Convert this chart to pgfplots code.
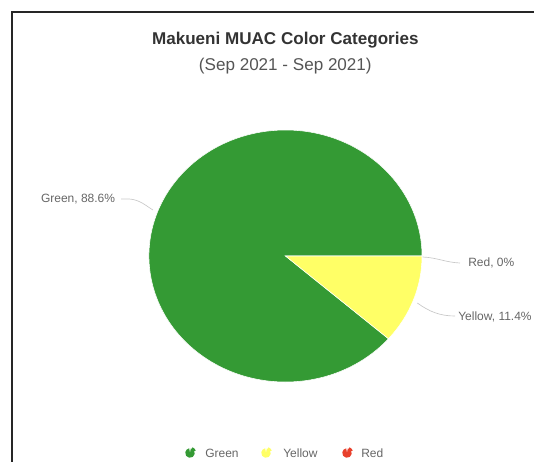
\documentclass[border=0pt]{standalone}
\usepackage{pgfplots}
\usepackage{pgfplotstable}
\pgfplotsset{compat=1.18}
\usepackage{fontspec}
\setmainfont{Liberation Sans}
\definecolor{cGreen}{HTML}{349A34}
\definecolor{cYellow}{HTML}{FFFF66}
\definecolor{cRed}{HTML}{E8402C}
\definecolor{cTitle}{HTML}{333333}
\definecolor{cSub}{HTML}{555555}
\definecolor{cLab}{HTML}{666666}
\definecolor{cConn}{HTML}{C8C8C8}

\pgfplotstableread{
name value
Green 88.6
Yellow 11.4
Red 0
}\piedata
\pgfplotstablegetelem{0}{value}\of\piedata \let\vG\pgfplotsretval
\pgfplotstablegetelem{1}{value}\of\piedata \let\vY\pgfplotsretval
\pgfplotstablegetelem{2}{value}\of\piedata \let\vR\pgfplotsretval
\pgfmathsetmacro\aS{-\vY*3.6}
\pgfmathsetmacro\aG{\aS-\vG*3.6}
\pgfmathsetmacro\aY{\aG-\vY*3.6}
\pgfmathsetmacro\aR{\aY-\vR*3.6}
\def\rx{102.4pt}
\def\ry{94.5pt}

\begin{document}
\begin{tikzpicture}[x=1pt,y=1pt]
\useasboundingbox (0,0) rectangle (400.5,345.75);
\clip (0,0) rectangle (400.5,345.75);
% frame
\draw[black!85, line width=1.6pt] (9.2,-10) -- (9.2,337) -- (420,337);
% titles
\node[font=\fontsize{12.8}{14}\selectfont\bfseries, text=cTitle] at (214,315.5) {Makueni MUAC Color Categories};
\node[font=\fontsize{12.8}{14}\selectfont, text=cSub] at (214,296.5) {(Sep 2021 - Sep 2021)};
\begin{axis}[
  at={(214.1pt,153.75pt)}, anchor=center,
  scale only axis, width=204.8pt, height=189pt,
  xmin=-1, xmax=1, ymin=-1, ymax=1,
  hide axis, clip=false]
\fill[cGreen, draw=white, line width=0.4pt] (axis cs:0,0) -- (axis cs:{cos(\aS)},{sin(\aS)}) arc[start angle=\aS, end angle=\aG, x radius=\rx, y radius=\ry] -- cycle;
\fill[cYellow, draw=white, line width=0.4pt] (axis cs:0,0) -- (axis cs:{cos(\aG)},{sin(\aG)}) arc[start angle=\aG, end angle=\aY, x radius=\rx, y radius=\ry] -- cycle;
\end{axis}
% connectors
\draw[cConn, line width=0.5pt] (90.75,196.5) -- (97,196.5) .. controls (105,196) and (110,191) .. (114.75,188.25);
\draw[cConn, line width=0.5pt] (317,153) .. controls (328,152.5) and (334,149) .. (345,148.5);
\draw[cConn, line width=0.5pt] (313,118.5) .. controls (322,112) and (330,108.75) .. (341.25,108.75);
% labels
\node[font=\fontsize{9}{10}\selectfont, text=cLab, anchor=east, inner sep=0pt] at (86.5,196.5) {Green, 88.6\%};
\node[font=\fontsize{9}{10}\selectfont, text=cLab, anchor=west, inner sep=0pt] at (351,148.5) {Red, 0\%};
\node[font=\fontsize{9}{10}\selectfont, text=cLab, anchor=west, inner sep=0pt] at (343.5,108) {Yellow, 11.4\%};
% legend
\foreach \cx/\col/\txt/\tx in {142.5/cGreen/Green/153.75, 199.5/cYellow/Yellow/212.25, 260.25/cRed/Red/270.75}{
  \fill[\col] (\cx,6) -- ++(80:3.6) arc[start angle=80, end angle=-280+20, radius=3.6] -- cycle;
  \fill[\col] (\cx+0.8,6.8) -- ++(75:3.6) arc[start angle=75, end angle=15, radius=3.6] -- cycle;
  \node[font=\fontsize{9}{10}\selectfont, text=cLab, anchor=west, inner sep=0pt] at (\tx,6) {\txt};
}
\end{tikzpicture}
\end{document}
